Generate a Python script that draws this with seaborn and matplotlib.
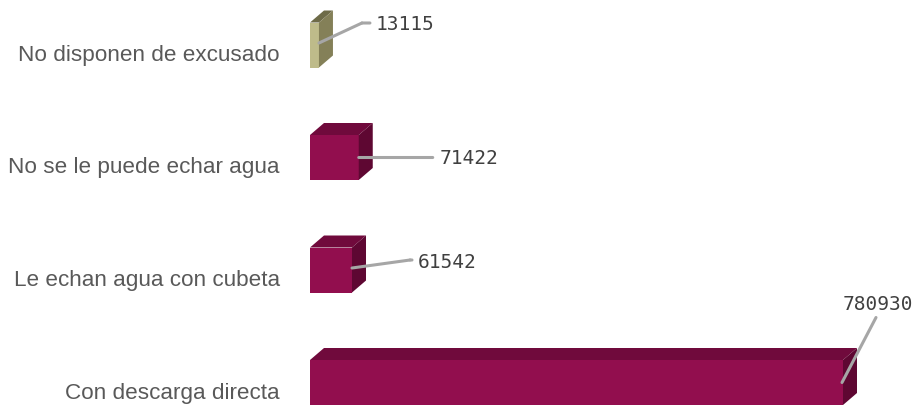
import matplotlib
matplotlib.use("Agg")
import matplotlib.pyplot as plt
import matplotlib.transforms as mtransforms
from matplotlib.patches import Polygon
import seaborn as sns
import pandas as pd

categories = ["No disponen de excusado", "No se le puede echar agua",
              "Le echan agua con cubeta", "Con descarga directa"]
values = [13115, 71422, 61542, 780930]
value_labels = ["13115", "71422", "61542", "780930"]

front_colors = ["#BEBB8A", "#920E4E", "#920E4E", "#920E4E"]
top_colors = ["#6E6B48", "#700A3C", "#700A3C", "#700A3C"]
side_colors = ["#848058", "#5E0732", "#5E0732", "#5E0732"]

W, H, DPI = 917, 405, 100
sns.set_theme(style="white")
plt.rcParams["font.family"] = ["Liberation Sans", "DejaVu Sans"]

fig = plt.figure(figsize=(W / DPI, H / DPI), dpi=DPI)
left_px = 310
ax = fig.add_axes([left_px / W, 0, (W - left_px) / W, 1])

df = pd.DataFrame({"cat": categories, "val": values})
sns.barplot(data=df, y="cat", x="val", hue="cat", palette=front_colors,
            orient="h", width=0.4, legend=False, ax=ax, saturation=1,
            linewidth=0)

# scale: pixels per data unit along x, pixels per category step along y
px_per_unit = 533 / 780930
step_px = 112.5
ax.set_xlim(0, (W - left_px) / px_per_unit)
ax.set_ylim(3.2, -0.4)

# depth of the 3D extrusion in pixels
dx_px, dy_px = 14, 12
dx = dx_px / px_per_unit
dy = dy_px / step_px
half = 0.2
for i, v in enumerate(values):
    top = i - half
    bot = i + half
    ax.add_patch(Polygon([(0, top), (v, top), (v + dx, top - dy), (dx, top - dy)],
                         closed=True, facecolor=top_colors[i], edgecolor="none"))
    ax.add_patch(Polygon([(v, top), (v + dx, top - dy), (v + dx, bot - dy), (v, bot)],
                         closed=True, facecolor=side_colors[i], edgecolor="none"))


def offset(px, py):
    """Data transform shifted by a pixel offset."""
    return ax.transData + mtransforms.ScaledTranslation(px / DPI, py / DPI, fig.dpi_scale_trans)


# leader lines and value labels, offsets in pixels from the bar end
leaders = [
    [(0, 2), (43, 22), (51, 22)],
    [(0, 0), (74, 0)],
    [(0, 2), (58, 10), (60, 10)],
    [(-1, 0), (33, 65)],
]
text_offsets = [(57, 21, "left"), (81, -1, "left"), (66, 7, "left"), (35, 78, "center")]

for i, v in enumerate(values):
    pts = leaders[i]
    for (x0, y0), (x1, y1) in zip(pts[:-1], pts[1:]):
        ax.annotate("", xy=(v, i), xycoords=offset(x0, y0),
                    xytext=(v, i), textcoords=offset(x1, y1),
                    arrowprops=dict(arrowstyle="-", color="#A6A6A6", lw=2.2,
                                    shrinkA=0, shrinkB=0),
                    annotation_clip=False)
    tx, ty, ha = text_offsets[i]
    ax.text(v, i, value_labels[i], transform=offset(tx, ty), ha=ha, va="center",
            fontsize=14, color="#404040", family=["DejaVu Sans Mono"], clip_on=False)

# category labels
ax.set_yticks(range(len(categories)))
ax.set_yticklabels(categories, fontsize=16.2, color="#595959")
ax.tick_params(axis="y", length=0, pad=21.6)
for lab in ax.get_yticklabels():
    lab.set_transform(lab.get_transform() + mtransforms.ScaledTranslation(0, -8 / DPI, fig.dpi_scale_trans))
ax.set_xticks([])
ax.set_xlabel("")
ax.set_ylabel("")
for s in ax.spines.values():
    s.set_visible(False)
ax.patch.set_alpha(0)

fig.savefig("out.png", dpi=DPI)
